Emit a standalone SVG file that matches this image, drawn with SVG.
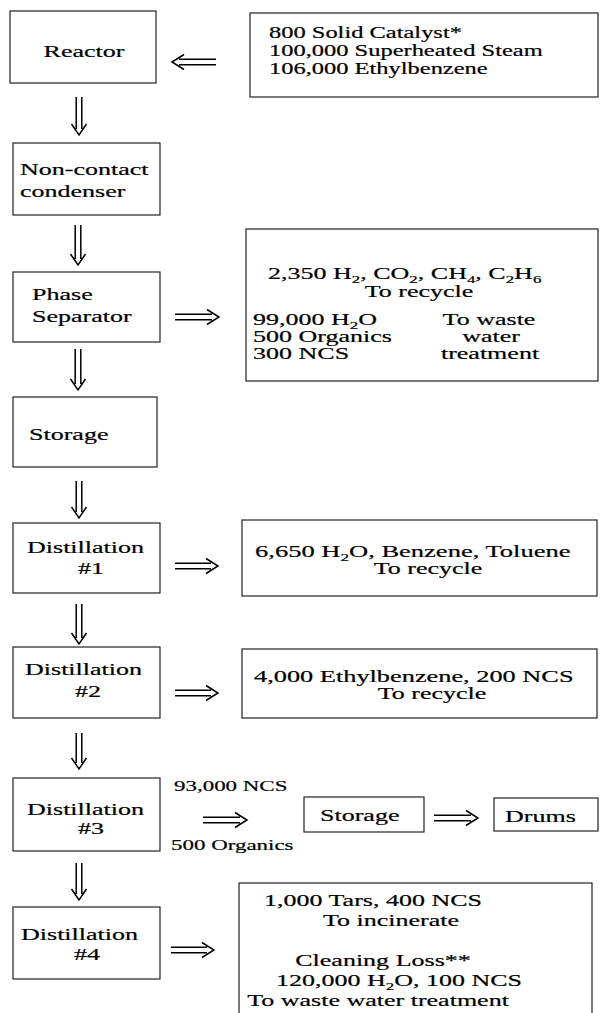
<svg xmlns="http://www.w3.org/2000/svg" width="600" height="1013" viewBox="0 0 600 1013">
<defs>
<style>
.box{fill:#fff;stroke:#222;stroke-width:1.2}
.t{font-family:"Liberation Serif","Times New Roman",serif;font-size:17px;fill:#000;stroke:#000;stroke-width:0.2}
.s{font-size:16px}
.x{font-size:15px}
.m{text-anchor:middle}
.sub{font-size:11px}
.arr{fill:none;stroke:#000;stroke-width:1.5}
</style>
</defs>
<rect width="600" height="1013" fill="#fff"/>

<g id="connectors">
<path class="arr" d="M216 59.2H179M216 64.8H179M184 54.5L172 62L184 69.5"/>
<path class="arr" d="M76.2 97V129M81.8 97V129M71.5 124L79 135L86.5 124"/>
<path class="arr" d="M75.2 225V259M80.8 225V259M70.5 254L78 265L85.5 254"/>
<path class="arr" d="M175 314.2H212M175 319.8H212M207 309.5L219 317L207 324.5"/>
<path class="arr" d="M75.2 349V384M80.8 349V384M70.5 379L78 390L85.5 379"/>
<path class="arr" d="M76.2 481V512M81.8 481V512M71.5 507L79 518L86.5 507"/>
<path class="arr" d="M175 563.2H211M175 568.8H211M206 558.5L218 566L206 573.5"/>
<path class="arr" d="M76.2 604V638M81.8 604V638M71.5 633L79 644L86.5 633"/>
<path class="arr" d="M175 690.2H211M175 695.8H211M206 685.5L218 693L206 700.5"/>
<path class="arr" d="M76.2 733V763M81.8 733V763M71.5 758L79 769L86.5 758"/>
<path class="arr" d="M203 817.2H240M203 822.8H240M235 812.5L247 820L235 827.5"/>
<text class="t x" transform="translate(174,791) scale(1.53,1)">93,000 NCS</text>
<text class="t x" transform="translate(171,850) scale(1.53,1)">500 Organics</text>
<path class="arr" d="M434 815.2H471M434 820.8H471M466 810.5L478 818L466 825.5"/>
<path class="arr" d="M76.2 863V894M81.8 863V894M71.5 889L79 900L86.5 889"/>
<path class="arr" d="M171 947.2H207M171 952.8H207M202 942.5L214 950L202 957.5"/>
</g>

<g id="reactor">
<rect class="box" x="10" y="11" width="146" height="72"/>
<text class="t m" transform="translate(84,57) scale(1.53,1)">Reactor</text>
</g>

<g id="feed">
<rect class="box" x="250" y="13" width="348" height="84"/>
<text class="t s" transform="translate(269,38) scale(1.53,1)">800 Solid Catalyst*</text>
<text class="t s" transform="translate(269,56) scale(1.53,1)">100,000 Superheated Steam</text>
<text class="t s" transform="translate(269,74) scale(1.53,1)">106,000 Ethylbenzene</text>
</g>

<g id="condenser">
<rect class="box" x="13" y="143" width="147" height="72"/>
<text class="t" transform="translate(20,175) scale(1.53,1)">Non-contact</text>
<text class="t" transform="translate(20,197) scale(1.53,1)">condenser</text>
</g>

<g id="phase-separator">
<rect class="box" x="13" y="272" width="147" height="70"/>
<text class="t" transform="translate(32,300) scale(1.53,1)">Phase</text>
<text class="t" transform="translate(32,322) scale(1.53,1)">Separator</text>
</g>

<g id="phase-output">
<rect class="box" x="246" y="229" width="352" height="152"/>
<text class="t" transform="translate(268,279) scale(1.53,1)">2,350 H<tspan class="sub" dy="4">2</tspan><tspan dy="-4">, CO</tspan><tspan class="sub" dy="4">2</tspan><tspan dy="-4">, CH</tspan><tspan class="sub" dy="4">4</tspan><tspan dy="-4">, C</tspan><tspan class="sub" dy="4">2</tspan><tspan dy="-4">H</tspan><tspan class="sub" dy="4">6</tspan></text>
<text class="t m" transform="translate(419,297) scale(1.53,1)">To recycle</text>
<text class="t" transform="translate(253,325) scale(1.53,1)">99,000 H<tspan class="sub" dy="4">2</tspan><tspan dy="-4">O</tspan></text>
<text class="t" transform="translate(253,342) scale(1.53,1)">500 Organics</text>
<text class="t" transform="translate(253,359) scale(1.53,1)">300 NCS</text>
<text class="t m" transform="translate(489,325) scale(1.53,1)">To waste</text>
<text class="t m" transform="translate(491,342) scale(1.53,1)">water</text>
<text class="t m" transform="translate(490,359) scale(1.53,1)">treatment</text>
</g>

<g id="storage-1">
<rect class="box" x="13" y="397" width="144" height="70"/>
<text class="t" transform="translate(29,440) scale(1.53,1)">Storage</text>
</g>

<g id="distillation-1">
<rect class="box" x="13" y="523" width="147" height="70"/>
<text class="t" transform="translate(27,553) scale(1.53,1)">Distillation</text>
<text class="t m" transform="translate(91,574) scale(1.53,1)">#1</text>
</g>

<g id="distillation-1-output">
<rect class="box" x="242" y="520" width="355" height="76"/>
<text class="t" transform="translate(255,557) scale(1.56,1)">6,650 H<tspan class="sub" dy="4">2</tspan><tspan dy="-4">O, Benzene, Toluene</tspan></text>
<text class="t m" transform="translate(428,574) scale(1.53,1)">To recycle</text>
</g>

<g id="distillation-2">
<rect class="box" x="13" y="647" width="147" height="71"/>
<text class="t" transform="translate(25,675) scale(1.53,1)">Distillation</text>
<text class="t m" transform="translate(88,697) scale(1.53,1)">#2</text>
</g>

<g id="distillation-2-output">
<rect class="box" x="242" y="649" width="355" height="69"/>
<text class="t" transform="translate(254,682) scale(1.55,1)">4,000 Ethylbenzene, 200 NCS</text>
<text class="t m" transform="translate(432,699) scale(1.53,1)">To recycle</text>
</g>

<g id="distillation-3">
<rect class="box" x="13" y="778" width="147" height="73"/>
<text class="t" transform="translate(27,815) scale(1.53,1)">Distillation</text>
<text class="t m" transform="translate(91,834) scale(1.53,1)">#3</text>
</g>

<g id="storage-2">
<rect class="box" x="304" y="797" width="120" height="35"/>
<text class="t" transform="translate(320,821) scale(1.53,1)">Storage</text>
</g>

<g id="drums">
<rect class="box" x="494" y="798" width="104" height="33"/>
<text class="t" transform="translate(505,822) scale(1.53,1)">Drums</text>
</g>

<g id="distillation-4">
<rect class="box" x="13" y="907" width="147" height="72"/>
<text class="t" transform="translate(21,940) scale(1.53,1)">Distillation</text>
<text class="t m" transform="translate(87,960) scale(1.53,1)">#4</text>
</g>

<g id="distillation-4-output">
<rect class="box" x="239" y="883" width="353" height="140"/>
<text class="t m" transform="translate(373,906) scale(1.53,1)">1,000 Tars, 400 NCS</text>
<text class="t m" transform="translate(391,926) scale(1.53,1)">To incinerate</text>
<text class="t m" transform="translate(383,966) scale(1.53,1)">Cleaning Loss**</text>
<text class="t m" transform="translate(399,986) scale(1.53,1)">120,000 H<tspan class="sub" dy="4">2</tspan><tspan dy="-4">O, 100 NCS</tspan></text>
<text class="t m" transform="translate(378,1006) scale(1.53,1)">To waste water treatment</text>
</g>
</svg>
